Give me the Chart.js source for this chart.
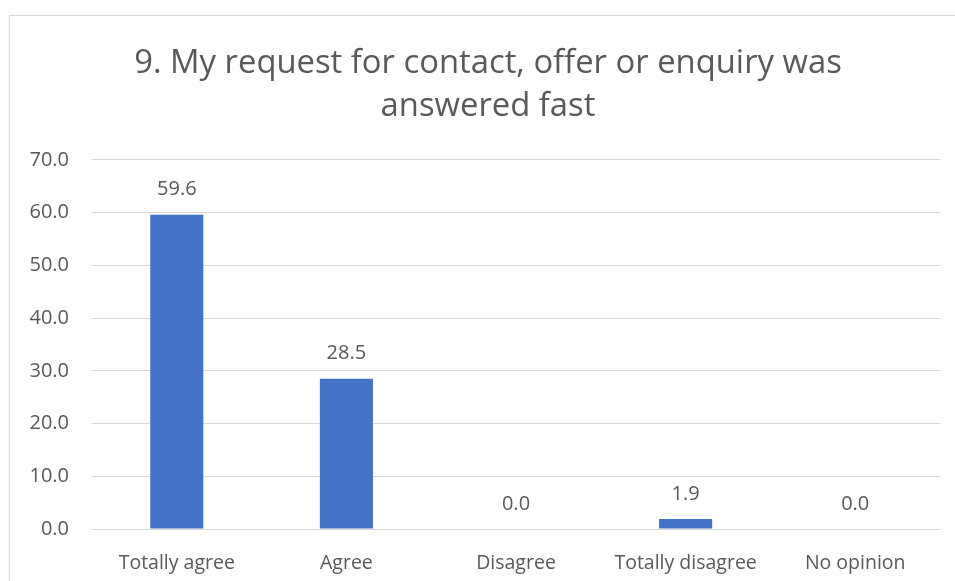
<!DOCTYPE html>
<html>
<head>
<meta charset="utf-8">
<script src="https://cdn.jsdelivr.net/npm/chart.js@4/dist/chart.umd.min.js"></script>
<style>
  html, body { margin: 0; padding: 0; background: #fff; }
  #frame { position: absolute; left: 9px; top: 15px; width: 1000px; height: 1000px; border: 1px solid #d9d9d9; }
  #wrap { position: absolute; left: 0; top: 0; width: 955px; height: 581px; }
</style>
</head>
<body>
<div id="frame"></div>
<div id="wrap"><canvas id="chart" width="955" height="581"></canvas></div>
<script>
    // survey answers, percent of respondents
    const categories = ["Totally agree", "Agree", "Disagree", "Totally disagree", "No opinion"];
    const shares = [59.6, 28.5, 0.0, 1.9, 0.0];
    const yTicks = [0, 10, 20, 30, 40, 50, 60, 70];
    const titleLines = ["9. My request for contact, offer or enquiry was", "answered fast"];

    const textColor = "#595959";
    const font = "'Open Sans', 'Noto Sans', sans-serif";

    // value labels above each bar
    const barLabels = {
        id: "barLabels",
        afterDatasetsDraw(chart) {
            const ctx = chart.ctx;
            const meta = chart.getDatasetMeta(0);
            ctx.save();
            ctx.font = "20px " + font;
            ctx.fillStyle = textColor;
            ctx.textAlign = "center";
            ctx.textBaseline = "middle";
            meta.data.forEach(function(bar, i) {
                ctx.fillText(shares[i].toFixed(1), bar.x, bar.y - 25);
            });
            ctx.restore();
        }
    };

    // the original title sits a bit right of the canvas centre
    const shiftTitle = {
        id: "shiftTitle",
        afterLayout(chart) {
            if (chart.titleBlock) chart.titleBlock.left = 36;
        }
    };

    const ctx = document.getElementById("chart").getContext("2d");
    new Chart(ctx, {
        type: "bar",
        data: {
            labels: categories,
            datasets: [{
                data: shares,
                backgroundColor: "#4472C4",
                barPercentage: 0.313,
                categoryPercentage: 1.0
            }]
        },
        options: {
            responsive: false,
            animation: false,
            layout: { padding: { left: 0, right: 15, top: 0, bottom: 0 } },
            plugins: {
                legend: { display: false },
                tooltip: { enabled: false },
                title: {
                    display: true,
                    text: titleLines,
                    color: textColor,
                    font: { family: font, size: 32.8, weight: "normal", lineHeight: 1.31 },
                    padding: { top: 42, bottom: 32 }
                }
            },
            scales: {
                x: {
                    afterFit(scale) { scale.height = 52; },
                    grid: { display: false },
                    border: { display: false },
                    ticks: { color: textColor, font: { family: font, size: 19.5 }, padding: 15, maxRotation: 0 }
                },
                y: {
                    min: 0,
                    max: 70,
                    afterFit(scale) { scale.width = 92; },
                    afterBuildTicks(scale) { scale.ticks = yTicks.map(v => ({ value: v })); },
                    grid: { color: "#d9d9d9", lineWidth: 1, drawTicks: false },
                    border: { display: false },
                    ticks: {
                        color: textColor,
                        font: { family: font, size: 20 },
                        padding: 23,
                        callback: v => v.toFixed(1)
                    }
                }
            }
        },
        plugins: [barLabels, shiftTitle]
    });
</script>
</body>
</html>
